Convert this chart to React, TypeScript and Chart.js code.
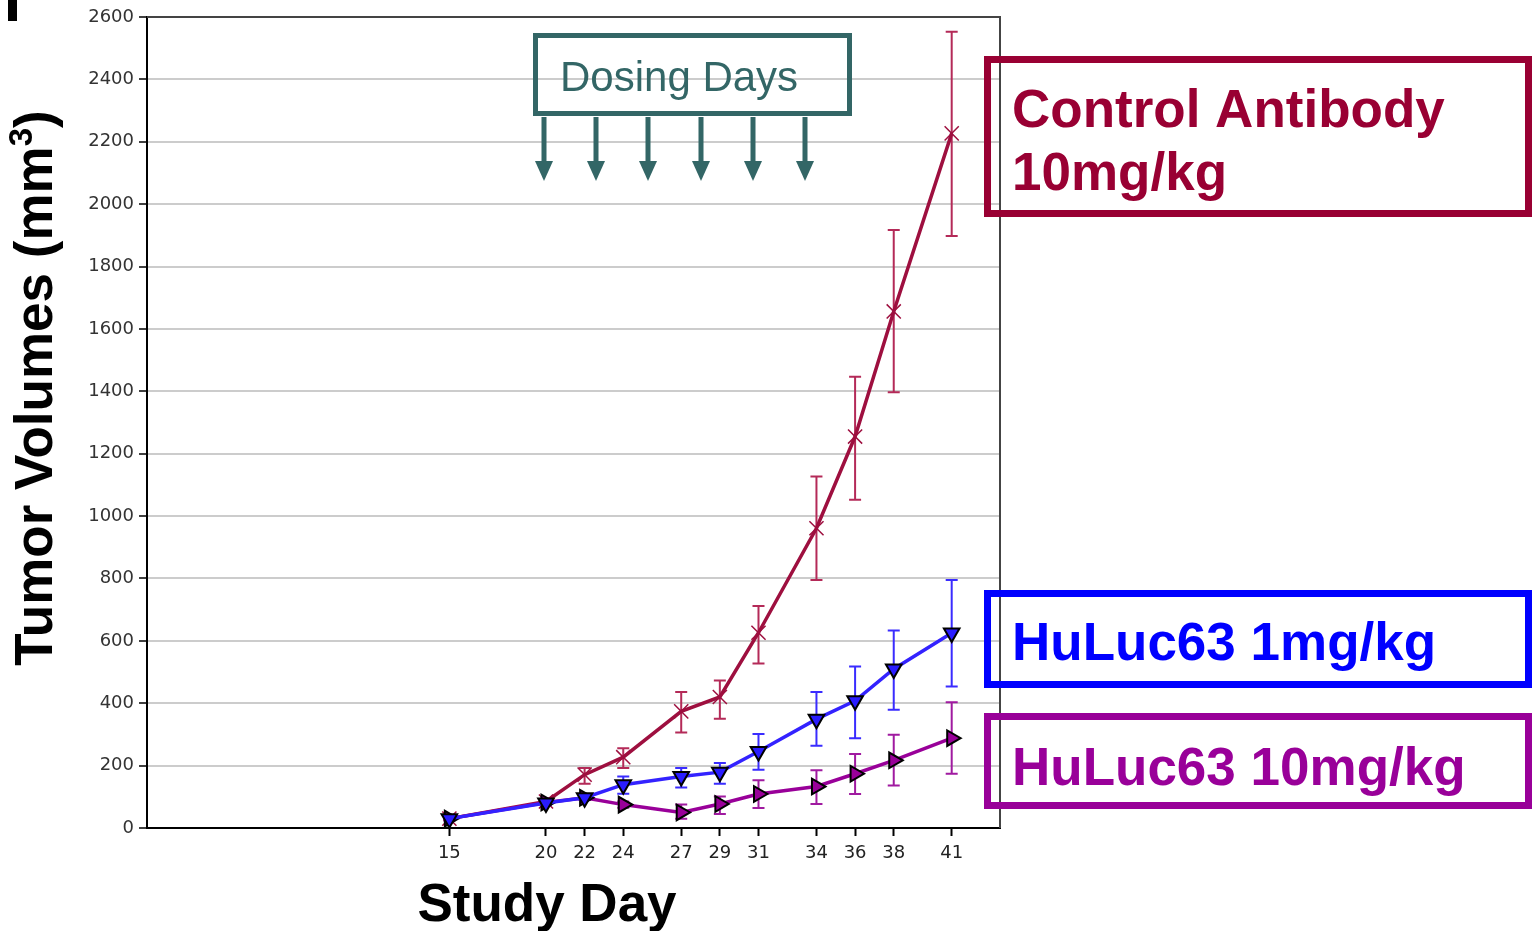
import React, { useEffect, useRef } from "react";
import { Chart, registerables } from "chart.js";

Chart.register(...registerables);

const days = [15, 20, 22, 24, 27, 29, 31, 34, 36, 38, 41];

const controlMean = [30, 85, 171, 227, 374, 420, 626, 961, 1255, 1656, 2227];
const controlLow = [25, 78, 142, 192, 306, 350, 527, 795, 1052, 1397, 1898];
const controlHigh = [35, 92, 192, 256, 436, 473, 712, 1127, 1447, 1917, 2553];

const hu1Mean = [30, 80, 97, 139, 165, 179, 245, 349, 408, 510, 625];
const hu1Low = [25, 73, 90, 110, 130, 142, 187, 264, 288, 379, 454];
const hu1High = [35, 87, 104, 165, 192, 208, 301, 436, 518, 633, 795];

const hu10Mean = [30, 82, 97, 75, 50, 77, 109, 133, 174, 217, 288];
const hu10Low = [25, 76, 90, 65, 30, 45, 64, 77, 109, 136, 174];
const hu10High = [35, 88, 104, 85, 75, 101, 153, 185, 237, 299, 403];

const xTickDays = [15, 20, 22, 24, 27, 29, 31, 34, 36, 38, 41];
const dosingArrowDays = [19.9, 22.6, 25.3, 28.0, 30.7, 33.4];

const seriesNames = ["HuLuc63 1mg/kg", "HuLuc63 10mg/kg", "Control Antibody 10mg/kg"];
const yTitle = "Tumor Volumes (mm";
const xTitle = "Study Day";
const dosingLabel = "Dosing Days";

const C_CONTROL = "#9e0f3f";
const C_BLUE = "#0000ff";
const C_PURPLE = "#990099";
const C_TEAL = "#336666";

const errorSets = [
  { low: hu1Low, high: hu1High, color: "#3a2cff" },
  { low: hu10Low, high: hu10High, color: "#a01aa0" },
  { low: controlLow, high: controlHigh, color: "#b42a58" },
];

const errorBarPlugin = {
  id: "errorBars",
  beforeDatasetsDraw(chart: any) {
    const { ctx, chartArea, scales } = chart;
    const xs = scales.x;
    const ys = scales.y;
    ctx.save();
    ctx.strokeStyle = "#444";
    ctx.lineWidth = 2;
    ctx.beginPath();
    ctx.moveTo(chartArea.left, chartArea.top);
    ctx.lineTo(chartArea.right, chartArea.top);
    ctx.lineTo(chartArea.right, chartArea.bottom);
    ctx.stroke();
    ctx.restore();

    ctx.save();
    ctx.lineWidth = 2;
    errorSets.forEach((s) => {
      ctx.strokeStyle = s.color;
      days.forEach((d, i) => {
        const x = xs.getPixelForValue(d);
        const y1 = ys.getPixelForValue(s.low[i]);
        const y2 = ys.getPixelForValue(s.high[i]);
        const cap = 6;
        ctx.beginPath();
        ctx.moveTo(x, y1);
        ctx.lineTo(x, y2);
        ctx.moveTo(x - cap, y1);
        ctx.lineTo(x + cap, y1);
        ctx.moveTo(x - cap, y2);
        ctx.lineTo(x + cap, y2);
        ctx.stroke();
      });
    });
    ctx.restore();
  },
};

const annotationPlugin = {
  id: "annotations",
  afterDraw(chart: any) {
    const { ctx, scales } = chart;
    const xs = scales.x;
    ctx.save();

    ctx.fillStyle = "#000";
    ctx.fillRect(8, 0, 9, 21);

    ctx.save();
    ctx.translate(52, 388);
    ctx.rotate(-Math.PI / 2);
    ctx.fillStyle = "#000";
    ctx.textBaseline = "alphabetic";
    ctx.textAlign = "left";
    const bigFont = "bold 53px 'Liberation Sans', Arial, sans-serif";
    const supFont = "bold 33px 'Liberation Sans', Arial, sans-serif";
    ctx.font = bigFont;
    const w1 = ctx.measureText(yTitle).width;
    const w3 = ctx.measureText(")").width;
    ctx.font = supFont;
    const w2 = ctx.measureText("3").width;
    const total = w1 + w2 + w3;
    const sx = -total / 2;
    ctx.font = bigFont;
    ctx.fillText(yTitle, sx, 0);
    ctx.font = supFont;
    ctx.fillText("3", sx + w1, -20);
    ctx.font = bigFont;
    ctx.fillText(")", sx + w1 + w2, 0);
    ctx.restore();

    ctx.fillStyle = "#000";
    ctx.font = "bold 53px 'Liberation Sans', Arial, sans-serif";
    ctx.textAlign = "center";
    ctx.textBaseline = "alphabetic";
    ctx.fillText(xTitle, 547, 921);

    ctx.strokeStyle = C_TEAL;
    ctx.lineWidth = 5;
    ctx.strokeRect(535.5, 35.5, 314, 78);
    ctx.fillStyle = C_TEAL;
    ctx.font = "42px 'Liberation Sans', Arial, sans-serif";
    ctx.textAlign = "left";
    ctx.fillText(dosingLabel, 560, 91);

    dosingArrowDays.forEach((d) => {
      const x = Math.round(xs.getPixelForValue(d));
      ctx.fillStyle = C_TEAL;
      ctx.fillRect(x - 2.5, 117, 5, 46);
      ctx.beginPath();
      ctx.moveTo(x - 9, 161);
      ctx.lineTo(x + 9, 161);
      ctx.lineTo(x, 181);
      ctx.closePath();
      ctx.fill();
    });

    const boxFont = "bold 53px 'Liberation Sans', Arial, sans-serif";
    ctx.font = boxFont;
    ctx.lineWidth = 7;

    ctx.strokeStyle = "#990033";
    ctx.strokeRect(987.5, 59.5, 541, 154);
    ctx.fillStyle = "#990033";
    ctx.fillText("Control Antibody", 1012, 127);
    ctx.fillText("10mg/kg", 1012, 190);

    ctx.strokeStyle = C_BLUE;
    ctx.strokeRect(987.5, 593.5, 541, 91);
    ctx.fillStyle = C_BLUE;
    ctx.fillText(seriesNames[0], 1012, 660);

    ctx.strokeStyle = C_PURPLE;
    ctx.strokeRect(987.5, 716.5, 541, 89);
    ctx.fillStyle = C_PURPLE;
    ctx.fillText(seriesNames[1], 1012, 785);

    ctx.restore();
  },
};

export default function App() {
  const ref = useRef<HTMLCanvasElement | null>(null);

  useEffect(() => {
    if (!ref.current) return;
    const toPts = (arr: number[]) => days.map((d, i) => ({ x: d, y: arr[i] }));
    const chart = new Chart(ref.current, {
      type: "line",
      data: {
        datasets: [
          {
            label: seriesNames[0],
            data: toPts(hu1Mean),
            borderColor: "#3322ff",
            backgroundColor: "#2a1cff",
            borderWidth: 3.5,
            pointStyle: "triangle",
            rotation: 180,
            pointRadius: 9,
            pointBorderColor: "#000",
            pointBackgroundColor: "#2a1cff",
            pointBorderWidth: 2,
            tension: 0,
          } as any,
          {
            label: seriesNames[1],
            data: toPts(hu10Mean),
            borderColor: C_PURPLE,
            backgroundColor: C_PURPLE,
            borderWidth: 3.5,
            pointStyle: "triangle",
            rotation: 90,
            pointRadius: 9,
            pointBorderColor: "#000",
            pointBackgroundColor: C_PURPLE,
            pointBorderWidth: 2,
            tension: 0,
          } as any,
          {
            label: seriesNames[2],
            data: toPts(controlMean),
            borderColor: C_CONTROL,
            backgroundColor: C_CONTROL,
            borderWidth: 3.5,
            pointStyle: "crossRot",
            pointRadius: 10,
            pointBorderColor: C_CONTROL,
            pointBorderWidth: 1.5,
            tension: 0,
          } as any,
        ],
      },
      options: {
        animation: false,
        responsive: false,
        maintainAspectRatio: false,
        layout: { padding: { top: 17, right: 532, left: 0, bottom: 0 } },
        plugins: {
          legend: { display: false },
          tooltip: { enabled: false },
          title: { display: false },
        },
        scales: {
          x: {
            type: "linear",
            min: -0.65,
            max: 43.5,
            afterFit: (s: any) => {
              s.height = 103;
            },
            afterBuildTicks: (s: any) => {
              s.ticks = xTickDays.map((v) => ({ value: v }));
            },
            grid: {
              drawOnChartArea: false,
              drawTicks: true,
              tickLength: 8,
              tickColor: "#000",
              tickWidth: 2,
            },
            border: { color: "#000", width: 2 },
            ticks: {
              autoSkip: false,
              maxRotation: 0,
              padding: 7,
              color: "#222",
              font: { family: "'DejaVu Sans', sans-serif", size: 18 },
              callback: (v: any) => String(v),
            },
          },
          y: {
            type: "linear",
            min: 0,
            max: 2600,
            afterFit: (s: any) => {
              s.width = 147;
            },
            grid: {
              color: "#cccccc",
              lineWidth: 2,
              drawTicks: true,
              tickLength: 8,
              tickColor: "#000",
              tickWidth: 1.5,
            },
            border: { color: "#000", width: 2 },
            ticks: {
              stepSize: 200,
              padding: 5,
              color: "#333",
              font: { family: "'DejaVu Sans', sans-serif", size: 18 },
              callback: (v: any) => String(v),
            },
          },
        },
      } as any,
      plugins: [errorBarPlugin, annotationPlugin],
    });
    return () => chart.destroy();
  }, []);

  return (
    <div style={{ position: "absolute", left: 0, top: 0, width: 1532, height: 931, background: "#fff" }}>
      <canvas ref={ref} width={1532} height={931} style={{ width: 1532, height: 931, display: "block" }} />
    </div>
  );
}
